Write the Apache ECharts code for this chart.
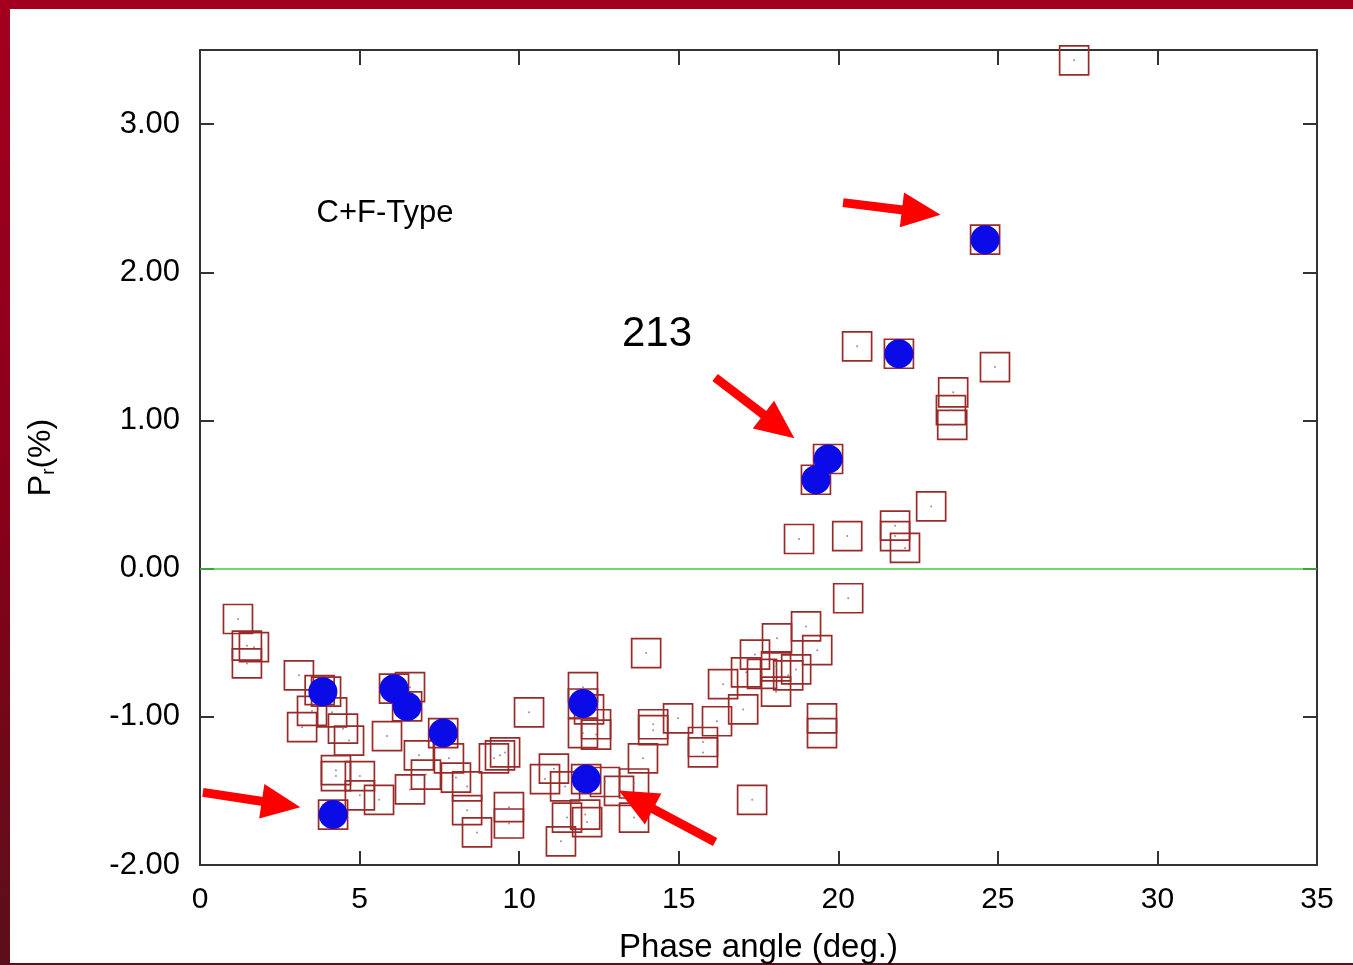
<!DOCTYPE html>
<html>
<head>
<meta charset="utf-8">
<script src="https://cdn.jsdelivr.net/npm/echarts@6/dist/echarts.min.js"></script>
<style>
  html, body { margin: 0; padding: 0; width: 1353px; height: 965px; overflow: hidden; background: #fff; }
  #frame { position: absolute; left: 0; top: 0; width: 1353px; height: 965px;
           background: linear-gradient(to bottom, #a3001f 0%, #8a0019 50%, #5a0f1a 100%); }
  #inner { position: absolute; left: 10px; top: 9px; width: 1343px; height: 954px; background: #fff; }
  #chart { position: absolute; left: 0; top: 0; width: 1353px; height: 965px; }
</style>
</head>
<body>
<div id="frame"><div id="inner"></div></div>
<div id="chart"></div>
<script>
// Phase angle (deg.) and Pr(%) for the open squares
var squareX = [1.19, 1.47, 1.69, 1.47, 3.10, 3.75, 3.95, 3.51, 3.20, 4.14, 4.48, 4.67, 4.26, 4.26, 5.01, 5.01, 5.61, 6.58, 4.17, 5.86,
               6.08, 6.49, 6.58, 7.62, 6.86, 7.08, 7.80, 8.02, 8.37, 8.37, 8.68, 13.98, 10.31, 12.00, 12.00, 12.00, 12.19, 12.41, 12.41, 14.20,
               14.20, 14.98, 15.76, 15.76, 16.20, 13.88, 13.60, 13.60, 13.13, 12.10, 10.81, 11.09, 11.44, 11.50, 11.31, 12.13, 9.40, 9.56, 9.21, 9.68,
               9.68, 20.31, 18.99, 19.34, 18.08, 18.68, 18.43, 17.39, 17.11, 17.61, 18.05, 18.05, 16.39, 17.02, 19.49, 19.49, 17.30, 20.59, 24.91, 23.60,
               23.53, 23.57, 22.91, 18.77, 20.28, 21.78, 21.78, 22.09, 27.39, 24.60, 21.90, 19.68, 19.30, 12.69, 12.07];
var squareY = [-0.34, -0.52, -0.53, -0.64, -0.72, -0.82, -0.83, -0.96, -1.07, -0.97, -1.08, -1.16, -1.36, -1.40, -1.40, -1.53, -1.56, -1.49, -1.66, -1.13,
               -0.81, -0.93, -0.80, -1.11, -1.26, -1.39, -1.28, -1.41, -1.47, -1.63, -1.78, -0.57, -0.97, -0.80, -1.11, -0.91, -0.95, -1.05, -1.12, -1.05,
               -1.09, -1.01, -1.17, -1.24, -1.03, -1.28, -1.45, -1.68, -1.50, -1.42, -1.42, -1.35, -1.47, -1.68, -1.84, -1.71, -1.26, -1.24, -1.28, -1.61,
               -1.72, -0.20, -0.39, -0.55, -0.47, -0.68, -0.72, -0.58, -0.70, -0.71, -0.66, -0.83, -0.78, -0.95, -1.01, -1.11, -1.56, 1.50, 1.36, 1.19,
               1.07, 0.97, 0.42, 0.20, 0.22, 0.29, 0.22, 0.14, 3.43, 2.22, 1.45, 0.74, 0.60, -1.44, -1.66];
// Highlighted objects (filled blue circles)
var blueX = [3.85, 4.17, 6.08, 6.49, 7.62, 12.00, 12.10, 19.30, 19.68, 21.90, 24.60];
var blueY = [-0.83, -1.66, -0.81, -0.93, -1.11, -0.91, -1.42, 0.60, 0.74, 1.45, 2.22];
// Axis ticks
var xTicks = [0, 5, 10, 15, 20, 25, 30, 35];
var yTicks = [-2, -1, 0, 1, 2, 3];
// Annotation arrows: tail -> head (data coordinates)
var arrowTailX = [20.15, 16.14, 0.09, 16.14];
var arrowTailY = [2.47, 1.29, -1.51, -1.845];
var arrowHeadX = [22.60, 18.14, 2.54, 13.66];
var arrowHeadY = [2.405, 0.96, -1.59, -1.56];
// Text annotations
var noteText = ['C+F-Type', '213'];
var noteX = [5.80, 14.32];
var noteY = [2.40, 1.58];
var noteSize = [31, 42];

function zip(a, b) { return a.map(function (v, i) { return [v, b[i]]; }); }

var chart = echarts.init(document.getElementById('chart'), null, { renderer: 'canvas' });
var FONT = '"Liberation Sans", Arial, Helvetica, sans-serif';
var axisLineStyle = { color: '#333', width: 2 };

var arrowData = arrowTailX.map(function (x, i) {
  return [
    { coord: [x, arrowTailY[i]], symbol: 'none' },
    { coord: [arrowHeadX[i], arrowHeadY[i]], symbol: 'triangle', symbolSize: [35, 39] }
  ];
});
var noteData = noteText.map(function (t, i) {
  return {
    coord: [noteX[i], noteY[i]], value: t, symbol: 'circle', symbolSize: 0,
    label: { show: true, position: 'inside', formatter: t, color: '#000', fontSize: noteSize[i], fontFamily: FONT }
  };
});

chart.setOption({
  animation: false,
  backgroundColor: 'transparent',
  grid: { left: 200, right: 36, top: 50, bottom: 100, show: false, containLabel: false, outerBoundsMode: 'none' },
  xAxis: [{
    type: 'value', min: xTicks[0], max: xTicks[xTicks.length - 1], interval: 5, position: 'bottom',
    axisLine: { show: true, onZero: false, lineStyle: axisLineStyle },
    axisTick: { show: true, inside: true, length: 14, lineStyle: { color: '#333', width: 2 } },
    splitLine: { show: false },
    axisLabel: { color: '#000', fontSize: 30, fontFamily: FONT, margin: 20 },
    name: 'Phase angle (deg.)', nameLocation: 'middle', nameGap: 66,
    nameTextStyle: { color: '#000', fontSize: 33, fontFamily: FONT }
  }, {
    type: 'value', min: xTicks[0], max: xTicks[xTicks.length - 1], interval: 5, position: 'top',
    axisLine: { show: true, onZero: false, lineStyle: axisLineStyle },
    axisTick: { show: true, inside: true, length: 15, lineStyle: { color: '#333', width: 2 } },
    splitLine: { show: false }, axisLabel: { show: false }
  }],
  yAxis: [{
    type: 'value', min: yTicks[0], max: 3.5, interval: 1, position: 'left',
    axisLine: { show: true, onZero: false, lineStyle: axisLineStyle },
    axisTick: { show: true, inside: true, length: 14, lineStyle: { color: '#333', width: 2 } },
    splitLine: { show: false },
    axisLabel: {
      color: '#000', fontSize: 31, fontFamily: FONT, margin: 20,
      formatter: function (v) { return yTicks.indexOf(v) >= 0 ? v.toFixed(2) : ''; }
    },
    name: '{p|P}{s|r}{p|(%)}', nameLocation: 'middle', nameGap: 142, nameRotate: 90,
    nameTextStyle: {
      color: '#000', fontFamily: FONT,
      rich: {
        p: { fontSize: 32, fontFamily: FONT, color: '#000' },
        s: { fontSize: 19, fontFamily: FONT, color: '#000', padding: [14, 0, 0, 0] }
      }
    }
  }, {
    type: 'value', min: yTicks[0], max: 3.5, interval: 1, position: 'right',
    axisLine: { show: true, onZero: false, lineStyle: axisLineStyle },
    axisTick: { show: true, inside: true, length: 14, lineStyle: { color: '#333', width: 2 } },
    splitLine: { show: false }, axisLabel: { show: false }
  }],
  series: [{
    name: 'zero', type: 'scatter', data: [], silent: true,
    markLine: {
      silent: true, symbol: 'none', label: { show: false },
      lineStyle: { color: '#3ccc3c', width: 1.5, type: 'solid' },
      data: [{ yAxis: 0 }]
    }
  }, {
    name: 'squares', type: 'scatter', symbol: 'rect', symbolSize: 29, silent: true,
    itemStyle: { color: 'rgba(255,255,255,0)', borderColor: '#992a2a', borderWidth: 1.7, opacity: 1 },
    data: zip(squareX, squareY), z: 3
  }, {
    name: 'centres', type: 'scatter', symbol: 'circle', symbolSize: 2, silent: true,
    itemStyle: { color: '#777' },
    data: zip(squareX, squareY), z: 3
  }, {
    name: 'blue', type: 'scatter', symbol: 'circle', symbolSize: 29, silent: true,
    itemStyle: { color: '#0b0be8', opacity: 1 },
    data: zip(blueX, blueY), z: 4
  }, {
    name: 'notes', type: 'scatter', data: [], silent: true, z: 5,
    markLine: {
      silent: true, label: { show: false }, z: 6,
      lineStyle: { color: '#ff0000', width: 9, type: 'solid', opacity: 1 },
      data: arrowData
    },
    markPoint: { silent: true, data: noteData, itemStyle: { color: 'rgba(0,0,0,0)' } }
  }]
});
</script>
</body>
</html>
